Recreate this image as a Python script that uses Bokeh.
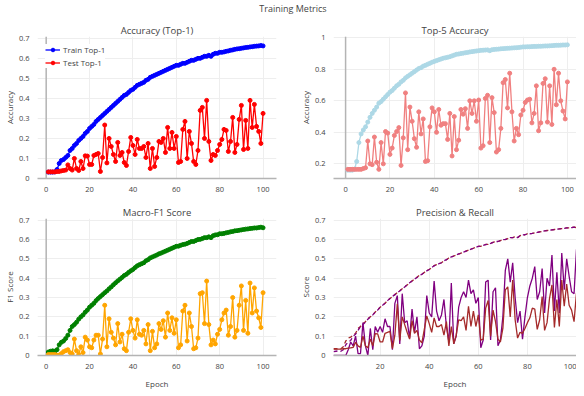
from bokeh.plotting import figure
from bokeh.models import Range1d, Span, FixedTicker, CustomJSTickFormatter, Div, Legend, LegendItem
from bokeh.layouts import column, row
from bokeh.embed import file_html
from bokeh.resources import INLINE

# ---------------- data ----------------
epochs = list(range(1, 101))

train_top1 = [0.032, 0.032, 0.032, 0.033, 0.045, 0.075, 0.09, 0.095, 0.105, 0.115,
              0.14, 0.15, 0.165, 0.175, 0.19, 0.2, 0.21, 0.225, 0.235, 0.25,
              0.26, 0.27, 0.285, 0.295, 0.305, 0.315, 0.325, 0.335, 0.345, 0.355,
              0.365, 0.375, 0.385, 0.395, 0.405, 0.415, 0.42, 0.43, 0.44, 0.445,
              0.455, 0.465, 0.47, 0.475, 0.48, 0.49, 0.495, 0.505, 0.51, 0.515,
              0.52, 0.525, 0.53, 0.535, 0.54, 0.545, 0.55, 0.555, 0.56, 0.565,
              0.565, 0.57, 0.575, 0.575, 0.58, 0.585, 0.59, 0.59, 0.595, 0.6,
              0.6, 0.605, 0.61, 0.61, 0.615, 0.61, 0.62, 0.625, 0.625, 0.63,
              0.63, 0.632, 0.635, 0.637, 0.64, 0.642, 0.645, 0.647, 0.648, 0.65,
              0.652, 0.654, 0.655, 0.657, 0.658, 0.66, 0.661, 0.662, 0.664, 0.662]

test_top1 = [0.033, 0.033, 0.033, 0.033, 0.035, 0.035, 0.038, 0.04, 0.042, 0.068,
             0.05, 0.042, 0.1, 0.05, 0.04, 0.085, 0.05, 0.113, 0.112, 0.07,
             0.07, 0.115, 0.12, 0.125, 0.035, 0.105, 0.267, 0.078, 0.2, 0.16,
             0.12, 0.085, 0.18, 0.115, 0.13, 0.08, 0.065, 0.135, 0.205, 0.165,
             0.12, 0.195, 0.15, 0.15, 0.16, 0.105, 0.175, 0.05, 0.15, 0.06,
             0.105, 0.185, 0.18, 0.2, 0.13, 0.255, 0.15, 0.23, 0.15, 0.21,
             0.08, 0.085, 0.245, 0.285, 0.1, 0.235, 0.175, 0.085, 0.07, 0.14,
             0.34, 0.355, 0.2, 0.39, 0.185, 0.09, 0.12, 0.115, 0.14, 0.17,
             0.195, 0.245, 0.24, 0.135, 0.185, 0.305, 0.13, 0.17, 0.295, 0.365,
             0.145, 0.29, 0.15, 0.39, 0.255, 0.37, 0.26, 0.235, 0.175, 0.325]

train_top5 = [0.16, 0.16, 0.16, 0.165, 0.215, 0.335, 0.39, 0.415, 0.435, 0.465,
              0.495, 0.52, 0.54, 0.56, 0.585, 0.595, 0.61, 0.625, 0.64, 0.655,
              0.665, 0.68, 0.695, 0.705, 0.72, 0.73, 0.745, 0.755, 0.765, 0.775,
              0.785, 0.795, 0.805, 0.81, 0.82, 0.825, 0.832, 0.838, 0.845, 0.85,
              0.855, 0.86, 0.865, 0.87, 0.873, 0.876, 0.88, 0.885, 0.89, 0.895,
              0.897, 0.9, 0.902, 0.905, 0.907, 0.91, 0.912, 0.914, 0.916, 0.918,
              0.92, 0.921, 0.922, 0.923, 0.918, 0.924, 0.926, 0.927, 0.928, 0.93,
              0.931, 0.932, 0.933, 0.934, 0.935, 0.936, 0.937, 0.938, 0.94, 0.942,
              0.942, 0.943, 0.943, 0.944, 0.945, 0.945, 0.946, 0.946, 0.947, 0.948,
              0.948, 0.949, 0.95, 0.951, 0.952, 0.952, 0.953, 0.954, 0.954, 0.955]

test_top5 = [0.165, 0.165, 0.165, 0.165, 0.165, 0.165, 0.165, 0.17, 0.175, 0.345,
             0.2, 0.195, 0.37, 0.21, 0.165, 0.335, 0.2, 0.405, 0.395, 0.26,
             0.3, 0.38, 0.405, 0.43, 0.19, 0.365, 0.65, 0.29, 0.56, 0.47,
             0.36, 0.305, 0.53, 0.39, 0.485, 0.215, 0.22, 0.435, 0.555, 0.53,
             0.4, 0.545, 0.445, 0.455, 0.455, 0.355, 0.52, 0.25, 0.5, 0.29,
             0.35, 0.545, 0.515, 0.55, 0.425, 0.6, 0.52, 0.6, 0.47, 0.605,
             0.3, 0.315, 0.615, 0.635, 0.335, 0.62, 0.525, 0.275, 0.29, 0.425,
             0.715, 0.735, 0.555, 0.775, 0.53, 0.345, 0.425, 0.385, 0.51, 0.54,
             0.59, 0.605, 0.61, 0.46, 0.52, 0.695, 0.41, 0.46, 0.71, 0.74,
             0.465, 0.695, 0.45, 0.8, 0.575, 0.775, 0.6, 0.535, 0.485, 0.72]

train_f1 = [0.018, 0.022, 0.024, 0.022, 0.03, 0.055, 0.068, 0.075, 0.088, 0.105,
            0.13, 0.15, 0.16, 0.172, 0.188, 0.2, 0.21, 0.224, 0.235, 0.25,
            0.26, 0.27, 0.284, 0.295, 0.305, 0.315, 0.325, 0.334, 0.345, 0.355,
            0.366, 0.376, 0.386, 0.395, 0.404, 0.414, 0.42, 0.43, 0.438, 0.445,
            0.455, 0.464, 0.47, 0.475, 0.48, 0.49, 0.496, 0.505, 0.51, 0.515,
            0.52, 0.526, 0.53, 0.535, 0.54, 0.545, 0.55, 0.555, 0.56, 0.565,
            0.566, 0.57, 0.574, 0.576, 0.58, 0.585, 0.59, 0.59, 0.595, 0.6,
            0.601, 0.605, 0.61, 0.61, 0.614, 0.61, 0.62, 0.624, 0.625, 0.63,
            0.63, 0.632, 0.635, 0.637, 0.64, 0.642, 0.645, 0.646, 0.648, 0.65,
            0.652, 0.654, 0.655, 0.657, 0.658, 0.66, 0.66, 0.662, 0.664, 0.661]

test_f1 = [0.005, 0.005, 0.005, 0.005, 0.002, 0.002, 0.01, 0.02, 0.025, 0.03,
           0.015, 0.008, 0.085, 0.025, 0.005, 0.045, 0.015, 0.095, 0.08, 0.045,
           0.04, 0.08, 0.105, 0.105, 0.008, 0.085, 0.26, 0.045, 0.19, 0.12,
           0.09, 0.055, 0.165, 0.07, 0.11, 0.035, 0.025, 0.12, 0.19, 0.13,
           0.09, 0.185, 0.11, 0.105, 0.13, 0.06, 0.16, 0.025, 0.125, 0.04,
           0.06, 0.165, 0.135, 0.18, 0.095, 0.22, 0.13, 0.195, 0.115, 0.185,
           0.04, 0.055, 0.23, 0.26, 0.075, 0.22, 0.15, 0.035, 0.04, 0.09,
           0.32, 0.325, 0.165, 0.385, 0.16, 0.055, 0.08, 0.06, 0.11, 0.135,
           0.185, 0.22, 0.235, 0.105, 0.15, 0.3, 0.095, 0.13, 0.26, 0.36,
           0.13, 0.285, 0.115, 0.375, 0.22, 0.35, 0.23, 0.195, 0.145, 0.325]

train_precision = [0.02, 0.022, 0.024, 0.022, 0.03, 0.055, 0.07, 0.078, 0.1, 0.11,
                   0.13, 0.15, 0.16, 0.172, 0.188, 0.2, 0.21, 0.224, 0.235, 0.25,
                   0.26, 0.27, 0.284, 0.295, 0.305, 0.315, 0.325, 0.334, 0.345, 0.355,
                   0.366, 0.376, 0.386, 0.395, 0.404, 0.414, 0.42, 0.43, 0.438, 0.445,
                   0.455, 0.464, 0.47, 0.475, 0.48, 0.49, 0.496, 0.505, 0.51, 0.515,
                   0.52, 0.526, 0.53, 0.535, 0.54, 0.545, 0.55, 0.555, 0.56, 0.565,
                   0.566, 0.57, 0.574, 0.576, 0.58, 0.585, 0.59, 0.59, 0.595, 0.6,
                   0.601, 0.605, 0.61, 0.61, 0.614, 0.61, 0.62, 0.624, 0.625, 0.63,
                   0.63, 0.632, 0.635, 0.637, 0.64, 0.642, 0.645, 0.646, 0.648, 0.65,
                   0.652, 0.654, 0.655, 0.657, 0.658, 0.66, 0.66, 0.662, 0.664, 0.663]

train_recall = [0.035, 0.035, 0.035, 0.035, 0.045, 0.075, 0.09, 0.095, 0.105, 0.115,
                0.14, 0.15, 0.165, 0.175, 0.19, 0.2, 0.21, 0.225, 0.235, 0.25,
                0.26, 0.27, 0.285, 0.295, 0.305, 0.315, 0.325, 0.335, 0.345, 0.355,
                0.365, 0.375, 0.385, 0.395, 0.405, 0.415, 0.42, 0.43, 0.44, 0.445,
                0.455, 0.465, 0.47, 0.475, 0.48, 0.49, 0.495, 0.505, 0.51, 0.515,
                0.52, 0.525, 0.53, 0.535, 0.54, 0.545, 0.55, 0.555, 0.56, 0.565,
                0.565, 0.57, 0.575, 0.575, 0.58, 0.585, 0.59, 0.59, 0.595, 0.6,
                0.6, 0.605, 0.61, 0.61, 0.615, 0.61, 0.62, 0.625, 0.625, 0.63,
                0.63, 0.632, 0.635, 0.637, 0.64, 0.642, 0.645, 0.647, 0.648, 0.65,
                0.652, 0.654, 0.655, 0.657, 0.658, 0.66, 0.661, 0.662, 0.664, 0.662]

test_precision = [0.0, 0.0, 0.0, 0.0, 0.0, 0.0, 0.03, 0.07, 0.05, 0.1,
                  0.01, 0.01, 0.17, 0.05, 0.0, 0.14, 0.03, 0.15, 0.12, 0.15,
                  0.12, 0.19, 0.15, 0.15, 0.03, 0.27, 0.31, 0.06, 0.32, 0.17,
                  0.18, 0.09, 0.24, 0.12, 0.2, 0.035, 0.05, 0.1, 0.31, 0.22,
                  0.2, 0.385, 0.23, 0.18, 0.21, 0.29, 0.15, 0.07, 0.375, 0.06,
                  0.1, 0.25, 0.3, 0.33, 0.3, 0.39, 0.32, 0.34, 0.27, 0.3,
                  0.04, 0.08, 0.38, 0.39, 0.08, 0.33, 0.35, 0.05, 0.08, 0.2,
                  0.44, 0.5, 0.38, 0.48, 0.3, 0.17, 0.23, 0.085, 0.2, 0.3,
                  0.36, 0.4, 0.46, 0.29, 0.33, 0.45, 0.22, 0.4, 0.36, 0.52,
                  0.23, 0.43, 0.22, 0.53, 0.34, 0.5, 0.41, 0.33, 0.32, 0.55]

test_recall = [0.033, 0.033, 0.033, 0.033, 0.035, 0.035, 0.038, 0.04, 0.042, 0.068,
               0.05, 0.042, 0.1, 0.05, 0.04, 0.085, 0.05, 0.113, 0.112, 0.07,
               0.07, 0.115, 0.12, 0.125, 0.035, 0.105, 0.267, 0.078, 0.2, 0.16,
               0.12, 0.085, 0.18, 0.115, 0.13, 0.08, 0.065, 0.135, 0.205, 0.165,
               0.12, 0.195, 0.15, 0.15, 0.16, 0.105, 0.175, 0.05, 0.15, 0.06,
               0.105, 0.185, 0.18, 0.2, 0.13, 0.255, 0.15, 0.23, 0.15, 0.21,
               0.08, 0.085, 0.245, 0.285, 0.1, 0.235, 0.175, 0.085, 0.07, 0.14,
               0.34, 0.355, 0.2, 0.39, 0.185, 0.09, 0.12, 0.115, 0.14, 0.17,
               0.195, 0.245, 0.24, 0.135, 0.185, 0.305, 0.13, 0.17, 0.295, 0.365,
               0.145, 0.29, 0.15, 0.39, 0.255, 0.37, 0.26, 0.235, 0.175, 0.325]

x_ticks = [0, 20, 40, 60, 80, 100]
x_ticks_pr = [20, 40, 60, 80, 100]
y_ticks_07 = [0, 0.1, 0.2, 0.3, 0.4, 0.5, 0.6, 0.7]
y_ticks_top5 = [0.2, 0.4, 0.6, 0.8, 1.0]

# ---------------- style ----------------
FONT = "Open Sans"
TXT = "#444444"
GRID = "#eeeeee"
AXIS = "#b4b4b4"
fmt_code = "return String(Math.round(tick*100)/100);"


def make_fig(title, xr, yr, w, h, bl, br, bt, bb, xticks, yticks, ylabel, xlabel=None, zero_x=True):
    p = figure(title=title, x_range=Range1d(*xr), y_range=Range1d(*yr),
               width=w, height=h,
               min_border_left=bl, min_border_right=br, min_border_top=bt, min_border_bottom=bb,
               output_backend="svg", toolbar_location=None)
    p.title.text_font = FONT
    p.title.text_font_size = "9.5px"
    p.title.text_font_style = "normal"
    p.title.text_color = TXT
    p.title.align = "center"
    p.title.standoff = 0
    p.title.text_line_height = 1.0
    p.outline_line_color = None
    p.xgrid.grid_line_color = GRID
    p.ygrid.grid_line_color = GRID
    p.xaxis.ticker = FixedTicker(ticks=xticks)
    p.yaxis.ticker = FixedTicker(ticks=yticks)
    p.xaxis.formatter = CustomJSTickFormatter(code=fmt_code)
    p.yaxis.formatter = CustomJSTickFormatter(code=fmt_code)
    p.xaxis.axis_line_color = AXIS
    p.xaxis.axis_line_width = 1.5
    p.yaxis.axis_line_color = None
    for ax in (p.xaxis, p.yaxis):
        ax.major_tick_line_color = None
        ax.minor_tick_line_color = None
        ax.major_label_text_font = FONT
        ax.major_label_text_font_size = "7.5px"
        ax.major_label_text_color = TXT
        ax.major_label_standoff = 2
        ax.axis_label_text_font = FONT
        ax.axis_label_text_font_size = "8px"
        ax.axis_label_text_font_style = "normal"
        ax.axis_label_text_color = TXT
        ax.axis_label_standoff = 1
    p.yaxis.axis_label = ylabel
    if xlabel:
        p.xaxis.axis_label = xlabel
        p.xaxis.axis_label_standoff = 6
    if zero_x:
        p.add_layout(Span(location=0, dimension="height", line_color=AXIS, line_width=1.5, level="underlay"))
    return p


def line_markers(p, y, color):
    l = p.line(epochs, y, line_color=color, line_width=1.3)
    s = p.scatter(epochs, y, size=4, fill_color=color, line_color=color)
    return [l, s]


# Top-left: Accuracy (Top-1)
p1 = make_fig("Accuracy (Top-1)", (-4, 106.2), (0, 0.709), 296, 182, 30, 20, 19, 21,
              x_ticks, y_ticks_07, "Accuracy")
r_train = line_markers(p1, train_top1, "#0000ff")
r_test = line_markers(p1, test_top1, "#ff0000")
leg = Legend(items=[LegendItem(label="Train Top-1", renderers=r_train),
                    LegendItem(label="Test Top-1", renderers=r_test)],
             location="top_left")
leg.margin = 8
leg.padding = 3
leg.spacing = 2
leg.glyph_width = 15
leg.glyph_height = 9
leg.label_height = 9
leg.label_standoff = 3
leg.label_text_font = FONT
leg.label_text_font_size = "8px"
leg.label_text_color = TXT
leg.border_line_color = None
leg.background_fill_color = "white"
leg.background_fill_alpha = 1.0
p1.add_layout(leg)

# Top-right: Top-5 Accuracy
p2 = make_fig("Top-5 Accuracy", (-5.45, 104.1), (0.107, 1.008), 280, 182, 34, 0, 19, 19,
              x_ticks, y_ticks_top5, "Accuracy")
line_markers(p2, train_top5, "#add8e6")
line_markers(p2, test_top5, "#f08080")

# Bottom-left: Macro-F1
p3 = make_fig("Macro-F1 Score", (-4, 106.2), (0, 0.709), 296, 196, 30, 20, 19, 40,
              x_ticks, y_ticks_07, "F1 Score", "Epoch")
line_markers(p3, train_f1, "#008000")
line_markers(p3, test_f1, "#ffa500")

# Bottom-right: Precision & Recall
p4 = make_fig("Precision & Recall", (1, 100), (0, 0.709), 280, 196, 34, 0, 19, 35,
              x_ticks_pr, y_ticks_07, "Score", "Epoch", zero_x=False)
p4.line(epochs, train_recall, line_color="#a52a2a", line_width=1.3, line_dash="4 3")
p4.line(epochs, train_precision, line_color="#800080", line_width=1.3, line_dash="4 3")
p4.line(epochs, test_precision, line_color="#800080", line_width=1.3)
p4.line(epochs, test_recall, line_color="#a52a2a", line_width=1.3)

title = Div(text="Training Metrics", width=576, height=7,
            styles={"text-align": "center", "font-family": "Open Sans", "font-size": "9px",
                    "color": TXT, "line-height": "7px"})

layout = column(title, row(p1, p2), row(p3, p4))

open("out.html", "w").write(file_html(layout, INLINE))
